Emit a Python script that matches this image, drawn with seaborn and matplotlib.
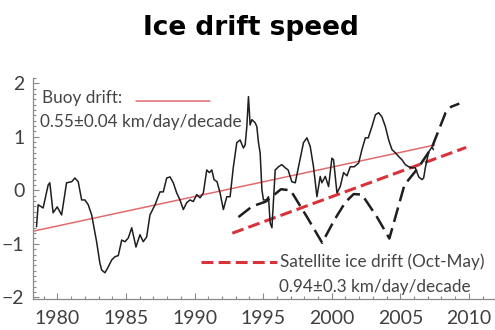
import numpy as np
import pandas as pd
import matplotlib
matplotlib.use("Agg")
import matplotlib.pyplot as plt
from matplotlib.ticker import MultipleLocator
import seaborn as sns

# Buoy-derived ice drift speed anomaly (km/day)
buoy_year = [1978.48, 1978.60, 1978.96, 1979.33, 1979.45, 1979.69, 1979.99, 1980.31,
             1980.67, 1981.04, 1981.28, 1981.52, 1981.77, 1982.01, 1982.25, 1982.50,
             1982.86, 1983.10, 1983.23, 1983.47, 1983.71, 1983.96, 1984.20, 1984.44,
             1984.69, 1984.93, 1985.17, 1985.42, 1985.73, 1986.02, 1986.26, 1986.51,
             1986.75, 1987.12, 1987.48, 1987.72, 1987.97, 1988.21, 1988.45, 1988.70,
             1988.94, 1989.18, 1989.43, 1989.67, 1989.91, 1990.16, 1990.40, 1990.64,
             1990.89, 1991.08, 1991.26, 1991.42, 1991.64, 1991.86, 1992.10, 1992.35,
             1992.59, 1992.83, 1993.08, 1993.32, 1993.56, 1993.69, 1993.81, 1993.93,
             1994.05, 1994.18, 1994.42, 1994.54, 1994.66, 1994.78, 1994.91, 1995.02,
             1995.22, 1995.39, 1995.51, 1995.64, 1995.88, 1996.12, 1996.36, 1996.61,
             1996.82, 1997.09, 1997.34, 1997.58, 1997.94, 1998.19, 1998.43, 1998.67,
             1998.92, 1999.16, 1999.28, 1999.53, 1999.77, 2000.01, 2000.13, 2000.38,
             2000.62, 2000.86, 2001.11, 2001.35, 2001.64, 2001.96, 2002.20, 2002.45,
             2002.66, 2002.93, 2003.18, 2003.42, 2003.66, 2003.91, 2004.15, 2004.39,
             2004.64, 2004.88, 2005.12, 2005.36, 2005.61, 2005.85, 2006.09, 2006.34,
             2006.58, 2006.70, 2006.82, 2007.07, 2007.31, 2007.41]
buoy_speed = [-0.68, -0.27, -0.33, 0.10, 0.14, -0.42, -0.31, -0.46,
              0.14, 0.16, 0.23, 0.16, -0.18, -0.18, -0.27, -0.46,
              -0.96, -1.36, -1.49, -1.54, -1.43, -1.30, -1.24, -1.22,
              -0.93, -0.96, -0.89, -0.70, -1.06, -0.83, -0.96, -0.87,
              -0.46, -0.27, -0.03, -0.03, 0.23, 0.25, 0.14, -0.05,
              -0.18, -0.36, -0.23, -0.18, -0.21, -0.08, -0.14, -0.05,
              0.38, 0.33, 0.38, 0.20, 0.16, -0.05, -0.36, -0.12,
              -0.12, 0.44, 0.89, 0.94, 0.79, 0.85, 1.19, 1.75,
              1.22, 1.32, 1.26, 1.19, 0.89, 0.70, 0.01, -0.18,
              -0.18, -0.12, -0.61, -0.70, 0.38, 0.44, 0.48, 0.42,
              0.38, 0.16, 0.14, 0.44, 0.89, 0.98, 0.82, 0.44,
              -0.12, 0.26, 0.14, 0.26, 0.07, 0.60, 0.57, -0.05,
              0.07, 0.33, 0.27, 0.44, 0.44, 0.51, 0.76, 0.98,
              0.98, 1.19, 1.41, 1.45, 1.37, 1.19, 0.94, 0.76,
              0.70, 0.63, 0.57, 0.48, 0.44, 0.42, 0.42, 0.25,
              0.20, 0.23, 0.42, 0.72, 0.81, 0.76]

# Satellite ice drift (Oct-May) anomaly (km/day)
sat_year = [1993.2, 1994.2, 1995.2, 1996.3, 1997.0, 1998.2, 1999.3, 2000.2, 2001.0,
            2001.6, 2002.2, 2003.3, 2004.2, 2005.3, 2006.3, 2007.3, 2008.3, 2008.7, 2009.3]
sat_speed = [-0.50, -0.30, -0.21, 0.02, 0.00, -0.50, -0.98, -0.55, -0.22,
             -0.07, -0.08, -0.50, -0.90, 0.10, 0.42, 0.80, 1.45, 1.56, 1.62]

# Linear trends: slope (km/day per decade), time span, and value at the span centre
buoy_trend = 0.55
sat_trend = 0.94
buoy_span = [1978.2, 2007.5]
sat_span = [1992.75, 2009.8]
buoy_centre = 0.04
sat_centre = 0.0

title = "Ice drift speed"
buoy_label = ["Buoy drift:", "0.55±0.04 km/day/decade"]
sat_label = ["Satellite ice drift (Oct-May)", "0.94±0.3 km/day/decade"]
x_ticks = [1980, 1985, 1990, 1995, 2000, 2005, 2010]
y_ticks = [-2, -1, 0, 1, 2]

sns.set_style("ticks")
plt.rcParams["font.family"] = ["Lato", "DejaVu Sans"]

buoy = pd.DataFrame({"year": buoy_year, "speed": buoy_speed})
sat = pd.DataFrame({"year": sat_year, "speed": sat_speed})


def trend_frame(span, slope, centre):
    xs = np.array(span)
    mid = xs.mean()
    return pd.DataFrame({"year": xs, "speed": centre + slope / 10.0 * (xs - mid)})


buoy_fit = trend_frame(buoy_span, buoy_trend, buoy_centre)
sat_fit = trend_frame(sat_span, sat_trend, sat_centre)

fig = plt.figure(figsize=(4.95, 3.3), dpi=100)
ax = fig.add_axes([0.066, 0.094, 0.934, 0.670])

red_line = "#e26b6e"
red_dash = "#d8333a"
ink = "#1e1e1e"
red_dashes = (0, (3.9, 1.7))
black_dashes = (0, (6.0, 2.6))

sns.lineplot(data=buoy_fit, x="year", y="speed", ax=ax, color=red_line, lw=1.1)
sns.lineplot(data=sat_fit, x="year", y="speed", ax=ax, color=red_dash, lw=2.2,
             linestyle=red_dashes)
sns.lineplot(data=buoy, x="year", y="speed", ax=ax, color=ink, lw=1.1)
sns.lineplot(data=sat, x="year", y="speed", ax=ax, color=ink, lw=1.8,
             linestyle=black_dashes)

ax.set_xlim(1978.2, 2011.9)
ax.set_ylim(-2.03, 2.10)
ax.set_xticks(x_ticks)
ax.set_yticks(y_ticks)
ax.xaxis.set_minor_locator(MultipleLocator(1))
ax.yaxis.set_minor_locator(MultipleLocator(0.1))
ax.set_xlabel("")
ax.set_ylabel("")
ax.tick_params(axis="both", which="both", direction="in", colors="#8a8a8a",
               labelcolor="#404040", labelsize=14, width=0.8)
ax.tick_params(axis="both", which="major", length=4)
ax.tick_params(axis="both", which="minor", length=2.5)
ax.tick_params(axis="x", pad=8)
ax.tick_params(axis="y", pad=6)
for side in ("top", "right"):
    ax.spines[side].set_visible(False)
for side in ("left", "bottom"):
    ax.spines[side].set_color("#8a8a8a")
    ax.spines[side].set_linewidth(0.9)

# In-plot key for both trend lines
txt = dict(fontsize=12.3, color="#444444", va="center", ha="left")
ax.text(1978.9, 1.73, buoy_label[0], **txt)
ax.text(1978.7, 1.28, buoy_label[1], **txt)
ax.plot([1985.7, 1991.1], [1.66, 1.66], color=red_line, lw=1.1)
ax.plot([1990.5, 1996.0], [-1.34, -1.34], color=red_dash, lw=2.2, linestyle=red_dashes)
ax.text(1996.2, -1.34, sat_label[0], **txt)
ax.text(1996.15, -1.80, sat_label[1], **txt)

fig.text(0.507, 0.915, title, ha="center", va="center", fontsize=19,
         fontweight="bold", family="DejaVu Sans", color="#000000")

fig.savefig("out.png", dpi=100)
